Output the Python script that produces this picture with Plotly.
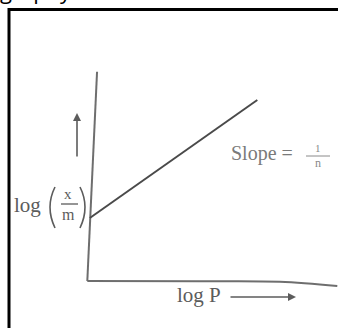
import plotly.graph_objects as go

W, H = 338, 328

# ---- data (logical units: log P on x, log(x/m) on y) ----
line_logP = [0.10, 6.80]
line_logxm = [2.52, 7.24]
yaxis_x = [0.00, 0.39]
yaxis_y = [0.00, 8.37]
xaxis_x = [0.00, 4.50, 7.70, 10.00]
xaxis_y = [0.00, -0.01, -0.03, -0.20]

# pixel mapping: x=0 at px 87.3, y=0 at py 281, 25 px per unit
X0, Y0, S = 87.3, 281.0, 25.0
xr = [-X0 / S, (W - X0) / S]
yr = [(Y0 - H) / S, Y0 / S]

def P(px, py):
    return px / W, 1 - py / H

fig = go.Figure()
fig.add_trace(go.Scatter(x=yaxis_x, y=yaxis_y, mode="lines",
                         line=dict(color="#6e6e6e", width=2), hoverinfo="skip"))
fig.add_trace(go.Scatter(x=xaxis_x, y=xaxis_y, mode="lines", line_shape="spline",
                         line=dict(color="#6e6e6e", width=2), hoverinfo="skip"))
fig.add_trace(go.Scatter(x=line_logP, y=line_logxm, mode="lines",
                         line=dict(color="#4a4a4a", width=2), hoverinfo="skip"))

shapes = []
# border
x1, y1 = P(9, 9.5)
x2, y2 = P(350, 340)
shapes.append(dict(type="rect", xref="paper", yref="paper", x0=x1, y0=y2, x1=x2, y1=y1,
                   line=dict(color="black", width=3)))

def path(pts):
    s = ""
    for cmd, px, py in pts:
        a, b = P(px, py)
        s += f"{cmd} {a:.5f},{b:.5f} "
    return s.strip()

# parentheses
shapes.append(dict(type="path", xref="paper", yref="paper",
                   path=path([("M", 55, 187), ("Q", 45, 207), ("", 55, 228)]),
                   line=dict(color="#5c5c5c", width=1.6)))
shapes.append(dict(type="path", xref="paper", yref="paper",
                   path=path([("M", 80, 187), ("Q", 90, 207), ("", 80, 228)]),
                   line=dict(color="#5c5c5c", width=1.6)))
# fraction bar x/m
a, b = P(61, 204); c, d = P(78, 204)
shapes.append(dict(type="line", xref="paper", yref="paper", x0=a, y0=b, x1=c, y1=d,
                   line=dict(color="#5c5c5c", width=1.3)))
# fraction bar 1/n
a, b = P(306, 156); c, d = P(330, 156)
shapes.append(dict(type="line", xref="paper", yref="paper", x0=a, y0=b, x1=c, y1=d,
                   line=dict(color="#8a8a8a", width=1)))

anns = []
def txt(t, px, py, size, color="#5c5c5c", xanchor="center", font="Liberation Serif"):
    a, b = P(px, py)
    anns.append(dict(text=t, x=a, y=b, xref="paper", yref="paper", showarrow=False,
                     xanchor=xanchor, yanchor="middle",
                     font=dict(family=font, size=size, color=color)))

def arrow(px0, py0, px1, py1, color="#5c5c5c"):
    a, b = P(px1, py1)
    anns.append(dict(x=a, y=b, ax=px0 - px1, ay=py0 - py1, xref="paper", yref="paper",
                     axref="pixel", ayref="pixel", text="", showarrow=True,
                     arrowhead=2, arrowsize=1, arrowwidth=1.6, arrowcolor=color))

txt("log", 27, 205, 21)
txt("x", 68, 194, 15)
txt("m", 68, 214, 16)
txt("Slope =", 262, 153, 20, color="#7a7a7a")
txt("1", 318, 148, 11, color="#8a8a8a")
txt("n", 318, 163, 12, color="#8a8a8a")
txt("log P", 199, 295, 21)
arrow(77, 158, 77, 113)
arrow(229, 297, 296, 297)
# partially visible caption above the frame
txt("graphy of Freundlich isotherm is slope of log", -2, -10, 22, color="black",
    xanchor="left", font="Open Sans")

fig.update_layout(
    width=W, height=H, margin=dict(l=0, r=0, t=0, b=0),
    paper_bgcolor="white", plot_bgcolor="white", showlegend=False,
    xaxis=dict(range=xr, visible=False, fixedrange=True),
    yaxis=dict(range=yr, visible=False, fixedrange=True),
    shapes=shapes, annotations=anns,
)
fig.write_html("out.html", config={"displayModeBar": False},
               post_script="document.body.style.margin='0';document.body.style.overflow='hidden';")
